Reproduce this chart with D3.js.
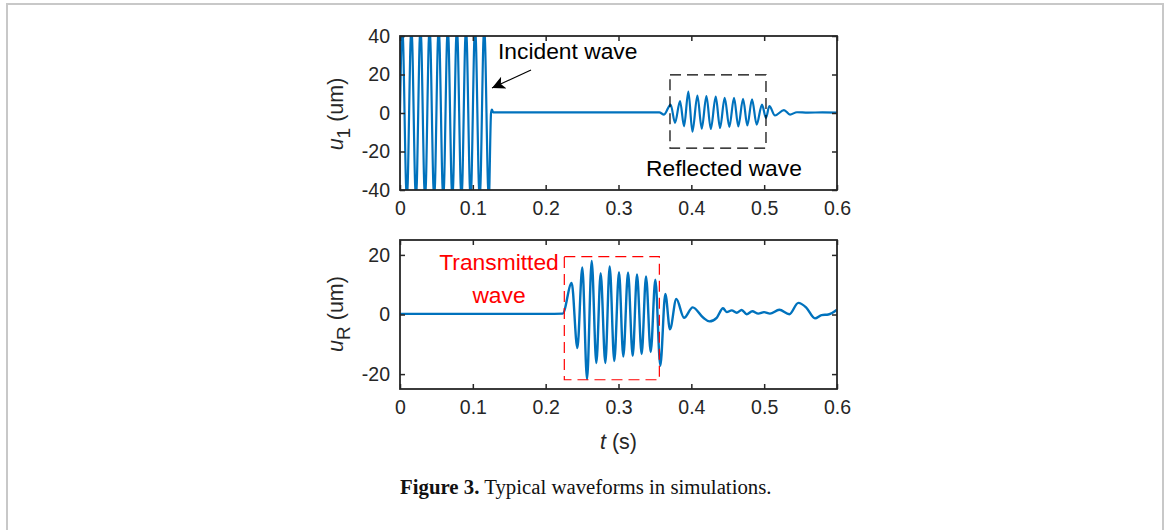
<!DOCTYPE html>
<html>
<head>
<meta charset="utf-8">
<script src="https://cdn.jsdelivr.net/npm/d3@7"></script>
<style>
  html, body { margin: 0; padding: 0; background: #fff; }
  svg { display: block; }
</style>
</head>
<body>
<script>
// ---------------- data ----------------
const xTicks = [0, 0.1, 0.2, 0.3, 0.4, 0.5, 0.6];
const yTicksTop = [-40, -20, 0, 20, 40];
const yTicksBottom = [-20, 0, 20];

// u1: incident burst (extrema), flat, reflected wave
const u1Time = [0, 0.0031, 0.0094, 0.0156, 0.0219, 0.0281, 0.0344, 0.0406, 0.0469, 0.0531, 0.0594,
  0.0656, 0.0719, 0.0781, 0.0844, 0.0906, 0.0969, 0.1031, 0.1094, 0.1156, 0.1219, 0.1250, 0.1262, 0.1280,
  0.2000, 0.3000, 0.3560, 0.3625, 0.3716, 0.3776, 0.3845, 0.3900, 0.3959, 0.4015, 0.4083, 0.4143,
  0.4207, 0.4267, 0.4335, 0.4394, 0.4458, 0.4522, 0.4586, 0.4645, 0.4710, 0.4769, 0.4833, 0.4897,
  0.4970, 0.5025, 0.5071, 0.5149, 0.5272, 0.5355, 0.5450, 0.5600, 0.5800, 0.6000];
const u1Value = [0, 46, -46, 46, -46, 46, -46, 46, -46, 46, -46,
  46, -46, 46, -46, 46, -46, 46, -46, 46, -46, 0, 1.8, 0.3,
  0.3, 0.3, 0.3, -0.8, 4.4, -5.1, 6.2, -6.9, 11.1, -9.7, 9.1, -8.1,
  8.8, -8.3, 8.5, -7.8, 7.9, -7.2, 7.9, -6.9, 7.4, -6.5, 7.1, -6.0,
  4.4, -2.5, 3.6, -1.3, 1.5, -0.8, 0.4, 0.2, 0.3, 0.2];

// uR: transmitted wave
const uRTime = [0, 0.1000, 0.2000, 0.2234, 0.2357, 0.2435, 0.2503, 0.2568, 0.2632, 0.2696, 0.2755,
  0.2819, 0.2879, 0.2942, 0.3007, 0.3066, 0.3131, 0.3195, 0.3254, 0.3318, 0.3378, 0.3442, 0.3506,
  0.3574, 0.3643, 0.3707, 0.3794, 0.3900, 0.4019, 0.4165, 0.4248, 0.4348, 0.4435, 0.4486, 0.4554,
  0.4623, 0.4691, 0.4760, 0.4837, 0.4920, 0.4998, 0.5080, 0.5208, 0.5346, 0.5469, 0.5575, 0.5698,
  0.5789, 0.5881, 0.6000];
const uRValue = [0.2, 0.2, 0.2, 0.3, 10.6, -11.3, 15.8, -21.7, 18.0, -16.3, 13.9,
  -16.3, 16.1, -15.6, 14.2, -14.1, 14.1, -13.9, 13.4, -13.3, 12.8, -12.6, 11.7,
  -17.2, 6.9, -5.0, 5.2, -1.1, 2.4, -1.1, -2.3, -1.1, 2.1, 0.8, 1.4,
  0.6, 1.5, 0.1, 1.1, 0.3, 0.8, 0.3, 1.6, 0.1, 3.9, 2.4, -1.3,
  -0.2, 0.0, 1.6];

// annotation boxes [t0, t1, v0, v1]
const reflectedBox = [0.3707, 0.5025, -18.2, 19.8];
const transmittedBox = [0.2256, 0.3561, -21.9, 19.4];

// ---------------- drawing ----------------
const W = 1167, H = 530;
const svg = d3.select("body").append("svg").attr("width", W).attr("height", H);

// page border
svg.append("rect").attr("x", 7).attr("y", 4).attr("width", 1156).attr("height", 560)
  .attr("fill", "none").attr("stroke", "#c8c8c8").attr("stroke-width", 2);

const axisColor = "#262626";
const lineColor = "#0072BD";
const tickFont = "'Liberation Sans', Arial, Helvetica, sans-serif";

const x = d3.scaleLinear().domain([0, 0.6]).range([400, 837]);
const yTop = d3.scaleLinear().domain([-40, 40]).range([190, 36]);
const yBot = d3.scaleLinear().domain([-25, 25]).range([389, 240]);

const defs = svg.append("defs");
defs.append("clipPath").attr("id", "clipTop").append("rect")
  .attr("x", 400).attr("y", 36).attr("width", 437).attr("height", 154);
defs.append("clipPath").attr("id", "clipBot").append("rect")
  .attr("x", 400).attr("y", 240).attr("width", 437).attr("height", 149);
defs.append("marker").attr("id", "arrow").attr("viewBox", "0 0 10 10")
  .attr("refX", 10).attr("refY", 5).attr("markerWidth", 17).attr("markerHeight", 13)
  .attr("markerUnits", "userSpaceOnUse").attr("orient", "auto")
  .append("path").attr("d", "M0,0 L10,5 L0,10 L2.5,5 Z").attr("fill", "#000");

function drawAxes(y, yTicks) {
  const [y0, y1] = y.range();
  const g = svg.append("g");
  const styleAxis = (sel) => {
    sel.select(".domain").remove();
    sel.selectAll(".tick line").attr("stroke", axisColor).attr("stroke-width", 1.5);
    sel.selectAll(".tick text").attr("fill", axisColor)
      .style("font-family", tickFont).style("font-size", "19.5px");
  };
  g.append("g").attr("transform", `translate(0,${y0})`)
    .call(d3.axisBottom(x).tickValues(xTicks).tickFormat(d3.format("")).tickSizeInner(-5).tickSizeOuter(0).tickPadding(11))
    .call(styleAxis);
  g.append("g").attr("transform", `translate(0,${y1})`)
    .call(d3.axisTop(x).tickValues(xTicks).tickFormat("").tickSizeInner(-5).tickSizeOuter(0))
    .call(styleAxis);
  g.append("g").attr("transform", `translate(${x.range()[0]},0)`)
    .call(d3.axisLeft(y).tickValues(yTicks).tickFormat(d => d < 0 ? "-" + Math.abs(d) : d).tickSizeInner(-5).tickSizeOuter(0).tickPadding(10))
    .call(styleAxis);
  g.append("g").attr("transform", `translate(${x.range()[1]},0)`)
    .call(d3.axisRight(y).tickValues(yTicks).tickFormat("").tickSizeInner(-5).tickSizeOuter(0))
    .call(styleAxis);
  g.selectAll("text").attr("font-family", null);
  g.append("rect").attr("x", x.range()[0]).attr("y", y1)
    .attr("width", x.range()[1] - x.range()[0]).attr("height", y0 - y1)
    .attr("fill", "none").attr("stroke", axisColor).attr("stroke-width", 1.8);
}

// top plot
const lineTop = d3.line().x(i => x(u1Time[i])).y(i => yTop(u1Value[i])).curve(d3.curveMonotoneX);
svg.append("path").attr("clip-path", "url(#clipTop)")
  .attr("d", lineTop(d3.range(u1Time.length)))
  .attr("fill", "none").attr("stroke", lineColor).attr("stroke-width", 2.2).attr("stroke-linejoin", "round");
drawAxes(yTop, yTicksTop);

// bottom plot
const lineBot = d3.line().x(i => x(uRTime[i])).y(i => yBot(uRValue[i])).curve(d3.curveMonotoneX);
svg.append("path").attr("clip-path", "url(#clipBot)")
  .attr("d", lineBot(d3.range(uRTime.length)))
  .attr("fill", "none").attr("stroke", lineColor).attr("stroke-width", 2.4).attr("stroke-linejoin", "round");
drawAxes(yBot, yTicksBottom);

// dashed boxes
svg.append("rect")
  .attr("x", x(reflectedBox[0])).attr("y", yTop(reflectedBox[3]))
  .attr("width", x(reflectedBox[1]) - x(reflectedBox[0]))
  .attr("height", yTop(reflectedBox[2]) - yTop(reflectedBox[3]))
  .attr("fill", "none").attr("stroke", "#000").attr("stroke-width", 1.2).attr("stroke-dasharray", "11,6");
svg.append("rect")
  .attr("x", x(transmittedBox[0])).attr("y", yBot(transmittedBox[3]))
  .attr("width", x(transmittedBox[1]) - x(transmittedBox[0]))
  .attr("height", yBot(transmittedBox[2]) - yBot(transmittedBox[3]))
  .attr("fill", "none").attr("stroke", "#ff0000").attr("stroke-width", 1.2).attr("stroke-dasharray", "11,6");

// annotations
const annFont = "'Liberation Sans', Arial, Helvetica, sans-serif";
svg.append("text").attr("x", 498).attr("y", 59).text("Incident wave")
  .attr("font-family", annFont).attr("font-size", 22.8).attr("fill", "#000");
svg.append("line").attr("x1", 531).attr("y1", 70).attr("x2", 492).attr("y2", 88)
  .attr("stroke", "#000").attr("stroke-width", 1.2).attr("marker-end", "url(#arrow)");
svg.append("text").attr("x", 646).attr("y", 176).text("Reflected wave")
  .attr("font-family", annFont).attr("font-size", 22.8).attr("fill", "#000");
svg.append("text").attr("x", 499).attr("y", 270).attr("text-anchor", "middle").text("Transmitted")
  .attr("font-family", annFont).attr("font-size", 22.8).attr("fill", "#ff0000");
svg.append("text").attr("x", 499).attr("y", 303).attr("text-anchor", "middle").text("wave")
  .attr("font-family", annFont).attr("font-size", 22.8).attr("fill", "#ff0000");

// axis labels
function yLabel(cx, cy, sub) {
  const t = svg.append("text").attr("transform", `translate(${cx},${cy}) rotate(-90)`)
    .attr("text-anchor", "middle").attr("font-family", annFont).attr("font-size", 21.5).attr("fill", axisColor);
  t.append("tspan").attr("font-style", "italic").text("u");
  t.append("tspan").attr("dy", 7).attr("font-size", 19).text(sub);
  t.append("tspan").attr("dy", -7).text(" (um)");
}
yLabel(343, 114, "1");
yLabel(343, 314, "R");

const xl = svg.append("text").attr("x", 618.5).attr("y", 449).attr("text-anchor", "middle")
  .attr("font-family", annFont).attr("font-size", 21.5).attr("fill", axisColor);
xl.append("tspan").attr("font-style", "italic").text("t");
xl.append("tspan").text(" (s)");

// caption
const cap = svg.append("text").attr("x", 400).attr("y", 494)
  .attr("font-family", "'Liberation Serif', 'Times New Roman', serif").attr("font-size", 20.8).attr("fill", "#111");
cap.append("tspan").attr("font-weight", "bold").text("Figure 3.");
cap.append("tspan").text(" Typical waveforms in simulations.");
</script>
</body>
</html>
